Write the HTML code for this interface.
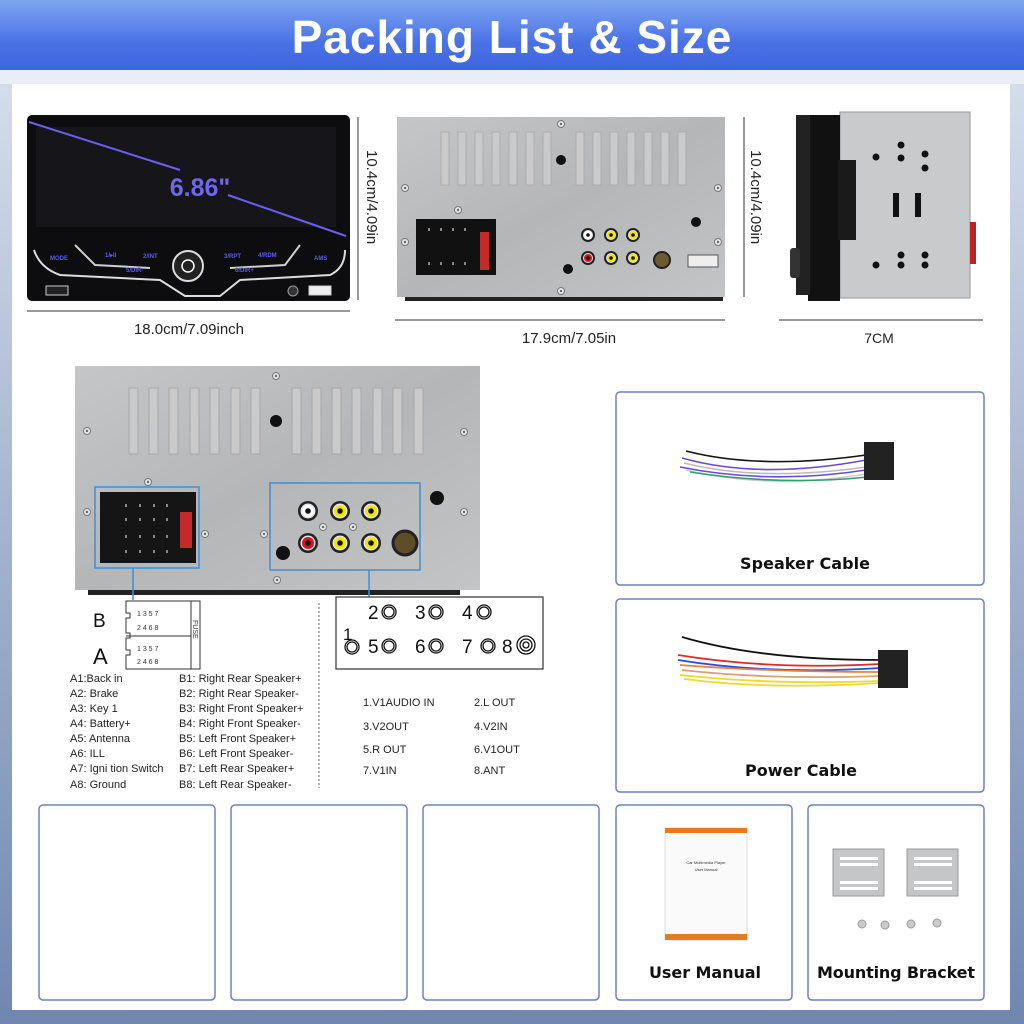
<!DOCTYPE html>
<html><head><meta charset="utf-8"><style>
html,body{margin:0;padding:0;width:1024px;height:1024px;overflow:hidden;background:#fff}
svg{display:block}
text{font-family:"Liberation Sans",sans-serif}
</style></head><body>
<svg width="1024" height="1024" viewBox="0 0 1024 1024" xmlns="http://www.w3.org/2000/svg">
<defs>
<linearGradient id="hd" x1="0" y1="0" x2="0" y2="1"><stop offset="0" stop-color="#7fa6f0"/><stop offset="0.6" stop-color="#4a72e6"/><stop offset="1" stop-color="#3f64e0"/></linearGradient>
<linearGradient id="bg" x1="0" y1="0" x2="0" y2="1"><stop offset="0" stop-color="#dde4ef"/><stop offset="1" stop-color="#6f87b0"/></linearGradient>
<linearGradient id="metal" x1="0" y1="0" x2="1" y2="1"><stop offset="0" stop-color="#c4c6c8"/><stop offset="0.5" stop-color="#b4b6b8"/><stop offset="1" stop-color="#c2c4c6"/></linearGradient>
<g id="screw"><circle r="3.5" fill="#e8e8e8" stroke="#777" stroke-width="1"/><circle r="1.2" fill="#666"/></g>
<g id="rcaY"><circle r="10" fill="#222"/><circle r="7.5" fill="#e6e6e6"/><circle r="6" fill="#f2e600"/><circle r="2.8" fill="#111"/></g>
<g id="rcaW"><circle r="10" fill="#222"/><circle r="7.5" fill="#e6e6e6"/><circle r="6" fill="#fafafa"/><circle r="2.8" fill="#111"/></g>
<g id="rcaR"><circle r="10" fill="#222"/><circle r="7.5" fill="#e6e6e6"/><circle r="6" fill="#d8141c"/><circle r="2.8" fill="#111"/></g>
<g id="rcaY2"><circle r="7" fill="#222"/><circle r="5" fill="#e6e6e6"/><circle r="4" fill="#f2e600"/><circle r="1.8" fill="#111"/></g>
<g id="rcaW2"><circle r="7" fill="#222"/><circle r="5" fill="#e6e6e6"/><circle r="4" fill="#fafafa"/><circle r="1.8" fill="#111"/></g>
<g id="rcaR2"><circle r="7" fill="#222"/><circle r="5" fill="#e6e6e6"/><circle r="4" fill="#d8141c"/><circle r="1.8" fill="#111"/></g>
</defs>

<!-- background -->
<rect width="1024" height="1024" fill="url(#bg)"/>
<rect x="12" y="82" width="998" height="928" fill="#fff"/>
<rect x="0" y="70" width="1024" height="14" fill="#e9eef6"/>
<rect x="0" y="0" width="1024" height="70" fill="url(#hd)"/>
<text x="512" y="53" text-anchor="middle" font-size="46" font-weight="bold" fill="#fff" style="font-family:'Liberation Sans Narrow','Liberation Sans',sans-serif" letter-spacing="1">Packing List &amp; Size</text>

<!-- Front unit -->
<rect x="27" y="115" width="323" height="186" rx="5" fill="#0d0d0f"/>
<rect x="36" y="127" width="300" height="100" fill="#16161a"/>
<line x1="29" y1="122" x2="180" y2="170" stroke="#6a5ff0" stroke-width="2"/>
<line x1="228" y1="195" x2="346" y2="236" stroke="#6a5ff0" stroke-width="2"/>
<text x="200" y="196" text-anchor="middle" font-size="25" font-weight="bold" fill="#6f66f2" style="font-family:'Liberation Sans Narrow','Liberation Sans',sans-serif">6.86"</text>
<path d="M34 250 Q40 268 60 275 L160 280 L185 296 L220 296 L240 280 L330 275 Q345 268 345 250" fill="none" stroke="#dcdcdc" stroke-width="2"/>
<path d="M75 245 L95 265 L150 268 M300 245 L285 265 L230 268" fill="none" stroke="#cfcfcf" stroke-width="2"/>
<circle cx="188" cy="266" r="15" fill="#222" stroke="#ddd" stroke-width="2"/>
<circle cx="188" cy="266" r="6" fill="none" stroke="#fff" stroke-width="1.5"/>
<g font-size="6" fill="#5f5be8" font-weight="bold">
<text x="50" y="260">MODE</text><text x="105" y="257">1/▸II</text><text x="143" y="258">2/INT</text><text x="224" y="258">3/RPT</text><text x="258" y="257">4/RDM</text><text x="314" y="260">AMS</text>
<text x="126" y="272">5/DIR-</text><text x="235" y="272">6/DIR+</text>
</g>
<rect x="46" y="286" width="22" height="9" fill="#222" stroke="#ccc"/>
<rect x="309" y="286" width="22" height="9" fill="#eee" stroke="#ccc"/>
<circle cx="293" cy="291" r="5" fill="#333" stroke="#999"/>
<line x1="27" y1="311" x2="350" y2="311" stroke="#333" stroke-width="1"/>
<text x="189" y="334" text-anchor="middle" font-size="15" fill="#222">18.0cm/7.09inch</text>
<text transform="translate(367,150) rotate(90)" font-size="15" fill="#222">10.4cm/4.09in</text>
<line x1="358" y1="117" x2="358" y2="300" stroke="#333"/>

<!-- Back panel 1 -->
<rect x="397" y="117" width="328" height="180" fill="url(#metal)"/>
<rect x="405" y="297" width="318" height="4" fill="#222"/>
<g fill="#cacaca" stroke="#a8a8a8" stroke-width="0.8">
<rect x="441" y="132" width="8" height="53"/><rect x="458" y="132" width="8" height="53"/><rect x="475" y="132" width="8" height="53"/><rect x="492" y="132" width="8" height="53"/><rect x="509" y="132" width="8" height="53"/><rect x="526" y="132" width="8" height="53"/><rect x="543" y="132" width="8" height="53"/>
<rect x="576" y="132" width="8" height="53"/><rect x="593" y="132" width="8" height="53"/><rect x="610" y="132" width="8" height="53"/><rect x="627" y="132" width="8" height="53"/><rect x="644" y="132" width="8" height="53"/><rect x="661" y="132" width="8" height="53"/><rect x="678" y="132" width="8" height="53"/>
</g>
<circle cx="561" cy="160" r="5" fill="#111"/>
<circle cx="696" cy="222" r="5" fill="#111"/>
<rect x="416" y="219" width="80" height="56" fill="#111"/>
<rect x="480" y="232" width="9" height="38" fill="#c52a2a"/>
<g fill="#888"><rect x="428" y="228" width="2" height="3"/><rect x="440" y="228" width="2" height="3"/><rect x="452" y="228" width="2" height="3"/><rect x="464" y="228" width="2" height="3"/><rect x="428" y="262" width="2" height="3"/><rect x="440" y="262" width="2" height="3"/><rect x="452" y="262" width="2" height="3"/><rect x="464" y="262" width="2" height="3"/></g>
<use href="#rcaW2" x="588" y="235"/><use href="#rcaY2" x="611" y="235"/><use href="#rcaY2" x="633" y="235"/>
<use href="#rcaR2" x="588" y="258"/><use href="#rcaY2" x="611" y="258"/><use href="#rcaY2" x="633" y="258"/>
<circle cx="662" cy="260" r="8" fill="#6b5a32" stroke="#222" stroke-width="2"/>
<rect x="688" y="255" width="30" height="12" fill="#eee" stroke="#555"/>
<circle cx="568" cy="269" r="5" fill="#111"/>
<use href="#screw" x="561" y="124"/><use href="#screw" x="405" y="188"/><use href="#screw" x="718" y="188"/><use href="#screw" x="458" y="210"/><use href="#screw" x="405" y="242"/><use href="#screw" x="718" y="242"/><use href="#screw" x="561" y="291"/>
<line x1="395" y1="320" x2="725" y2="320" stroke="#333"/>
<text x="569" y="343" text-anchor="middle" font-size="15" fill="#222">17.9cm/7.05in</text>
<text transform="translate(751,150) rotate(90)" font-size="15" fill="#222">10.4cm/4.09in</text>
<line x1="744" y1="117" x2="744" y2="297" stroke="#333"/>

<!-- Side unit -->
<rect x="840" y="112" width="130" height="186" fill="#c8cacc" stroke="#999"/>
<rect x="808" y="115" width="32" height="186" fill="#111"/>
<rect x="796" y="115" width="14" height="180" fill="#222"/>
<rect x="790" y="248" width="10" height="30" rx="3" fill="#333"/>
<rect x="970" y="222" width="6" height="42" fill="#c02020"/>
<rect x="838" y="160" width="18" height="80" fill="#1a1a1a"/>
<g fill="#111"><circle cx="901" cy="145" r="3.5"/><circle cx="925" cy="154" r="3.5"/><circle cx="876" cy="157" r="3.5"/><circle cx="901" cy="158" r="3.5"/><circle cx="925" cy="168" r="3.5"/><circle cx="901" cy="255" r="3.5"/><circle cx="925" cy="255" r="3.5"/><circle cx="876" cy="265" r="3.5"/><circle cx="901" cy="265" r="3.5"/><circle cx="925" cy="265" r="3.5"/>
<rect x="893" y="193" width="6" height="24"/><rect x="915" y="193" width="6" height="24"/></g>
<line x1="779" y1="320" x2="983" y2="320" stroke="#333"/>
<text x="879" y="343" text-anchor="middle" font-size="14" fill="#222" style="font-family:'Liberation Sans Narrow','Liberation Sans',sans-serif">7CM</text>

<!-- Big back panel -->
<rect x="75" y="366" width="405" height="224" fill="url(#metal)"/>
<rect x="88" y="590" width="372" height="5" fill="#222"/>
<g fill="#cacaca" stroke="#a8a8a8" stroke-width="1">
<rect x="129" y="388" width="9" height="66"/><rect x="149" y="388" width="9" height="66"/><rect x="169" y="388" width="9" height="66"/><rect x="190" y="388" width="9" height="66"/><rect x="210" y="388" width="9" height="66"/><rect x="231" y="388" width="9" height="66"/><rect x="251" y="388" width="9" height="66"/>
<rect x="292" y="388" width="9" height="66"/><rect x="312" y="388" width="9" height="66"/><rect x="332" y="388" width="9" height="66"/><rect x="352" y="388" width="9" height="66"/><rect x="373" y="388" width="9" height="66"/><rect x="393" y="388" width="9" height="66"/><rect x="414" y="388" width="9" height="66"/>
</g>
<circle cx="276" cy="421" r="6" fill="#111"/>
<circle cx="437" cy="498" r="7" fill="#111"/>
<rect x="95" y="487" width="104" height="81" fill="none" stroke="#3d8fd8" stroke-width="1.5"/>
<rect x="100" y="492" width="96" height="71" fill="#151515"/>
<rect x="180" y="512" width="12" height="36" fill="#c52a2a"/>
<g fill="#888"><rect x="125" y="504" width="2" height="3"/><rect x="139" y="504" width="2" height="3"/><rect x="153" y="504" width="2" height="3"/><rect x="166" y="504" width="2" height="3"/><rect x="125" y="518" width="2" height="3"/><rect x="139" y="518" width="2" height="3"/><rect x="153" y="518" width="2" height="3"/><rect x="166" y="518" width="2" height="3"/><rect x="125" y="535" width="2" height="3"/><rect x="139" y="535" width="2" height="3"/><rect x="153" y="535" width="2" height="3"/><rect x="166" y="535" width="2" height="3"/><rect x="125" y="550" width="2" height="3"/><rect x="139" y="550" width="2" height="3"/><rect x="153" y="550" width="2" height="3"/><rect x="166" y="550" width="2" height="3"/></g>
<rect x="270" y="483" width="150" height="87" fill="none" stroke="#3d8fd8" stroke-width="1.5"/>
<use href="#rcaW" x="308" y="511"/><use href="#rcaY" x="340" y="511"/><use href="#rcaY" x="371" y="511"/>
<use href="#rcaR" x="308" y="543"/><use href="#rcaY" x="340" y="543"/><use href="#rcaY" x="371" y="543"/>
<circle cx="405" cy="543" r="12" fill="#5e4d26" stroke="#222" stroke-width="3"/>
<circle cx="283" cy="553" r="7" fill="#111"/>
<use href="#screw" x="276" y="376"/><use href="#screw" x="87" y="431"/><use href="#screw" x="464" y="432"/><use href="#screw" x="148" y="482"/><use href="#screw" x="87" y="512"/><use href="#screw" x="464" y="512"/><use href="#screw" x="205" y="534"/><use href="#screw" x="264" y="534"/><use href="#screw" x="323" y="527"/><use href="#screw" x="353" y="527"/><use href="#screw" x="277" y="580"/>
<line x1="133" y1="568" x2="133" y2="600" stroke="#3d8fd8" stroke-width="1.5"/>
<line x1="369" y1="570" x2="369" y2="597" stroke="#3d8fd8" stroke-width="1.5"/>

<!-- Connector diagram -->
<text x="93" y="627" font-size="19" fill="#111">B</text>
<text x="93" y="664" font-size="22" fill="#111">A</text>
<path d="M126 601 H200 V669 H126 V655 H130 V650 H126 V638 H130 V633 H126 V618 H130 V613 H126 Z" fill="#fff" stroke="#333" stroke-width="1"/>
<line x1="126" y1="636" x2="191" y2="636" stroke="#333"/><line x1="191" y1="601" x2="191" y2="669" stroke="#333"/>
<g font-size="7" fill="#333"><text x="137" y="616">1  3  5  7</text><text x="137" y="630">2  4  6  8</text><text x="137" y="651">1  3  5  7</text><text x="137" y="664">2  4  6  8</text></g>
<text transform="translate(193,620) rotate(90)" font-size="7" fill="#333">FUSE</text>

<g font-size="11" fill="#222">
<text x="70" y="682">A1:Back    in</text><text x="70" y="697">A2: Brake</text><text x="70" y="712">A3: Key 1</text><text x="70" y="727">A4: Battery+</text><text x="70" y="742">A5: Antenna</text><text x="70" y="757">A6: ILL</text><text x="70" y="772">A7:  Igni tion Switch</text><text x="70" y="788">A8: Ground</text>
<text x="179" y="682">B1: Right Rear Speaker+</text><text x="179" y="697">B2: Right Rear Speaker-</text><text x="179" y="712">B3: Right Front Speaker+</text><text x="179" y="727">B4: Right Front Speaker-</text><text x="179" y="742">B5: Left Front Speaker+</text><text x="179" y="757">B6: Left Front Speaker-</text><text x="179" y="772">B7: Left Rear Speaker+</text><text x="179" y="788">B8: Left Rear Speaker-</text>
</g>
<line x1="319" y1="603" x2="319" y2="788" stroke="#666" stroke-dasharray="2,2"/>

<rect x="336" y="597" width="207" height="72" fill="#fff" stroke="#333" stroke-width="1.2"/>
<g font-size="19" fill="#111">
<text x="368" y="619">2</text><text x="415" y="619">3</text><text x="462" y="619">4</text>
<text x="343" y="640" font-size="17">1</text>
<text x="368" y="653">5</text><text x="415" y="653">6</text><text x="462" y="653">7</text><text x="502" y="653">8</text>
</g>
<g fill="none" stroke="#111" stroke-width="1.3">
<circle cx="389" cy="612" r="7"/><circle cx="389" cy="612" r="5"/>
<circle cx="436" cy="612" r="7"/><circle cx="436" cy="612" r="5"/>
<circle cx="484" cy="612" r="7"/><circle cx="484" cy="612" r="5"/>
<circle cx="352" cy="647" r="7"/><circle cx="352" cy="647" r="5"/>
<circle cx="389" cy="646" r="7"/><circle cx="389" cy="646" r="5"/>
<circle cx="436" cy="646" r="7"/><circle cx="436" cy="646" r="5"/>
<circle cx="488" cy="646" r="7"/><circle cx="488" cy="646" r="5"/>
<circle cx="526" cy="645" r="9"/><circle cx="526" cy="645" r="6"/><circle cx="526" cy="645" r="3"/>
</g>
<g font-size="11" fill="#222">
<text x="363" y="706">1.V1AUDIO IN</text><text x="474" y="706">2.L OUT</text>
<text x="363" y="730">3.V2OUT</text><text x="474" y="730">4.V2IN</text>
<text x="363" y="753">5.R OUT</text><text x="474" y="753">6.V1OUT</text>
<text x="363" y="774">7.V1IN</text><text x="474" y="774">8.ANT</text>
</g>

<!-- Right cable boxes -->
<rect x="616" y="392" width="368" height="193" rx="4" fill="#fff" stroke="#6c82b8" stroke-width="1.5"/>
<g fill="none" stroke-width="1.6">
<path d="M686 451 Q760 470 866 455" stroke="#111"/>
<path d="M682 458 Q760 480 866 460" stroke="#6a4ad8"/>
<path d="M684 463 Q760 482 866 467" stroke="#bbb"/>
<path d="M680 467 Q770 485 866 470" stroke="#6a4ad8"/>
<path d="M686 470 Q770 490 866 474" stroke="#ccc"/>
<path d="M690 472 Q780 486 868 477" stroke="#2ea06e"/>
</g>
<rect x="864" y="442" width="30" height="38" fill="#222"/>
<text x="805" y="569" text-anchor="middle" font-size="16" fill="#111" font-weight="bold" style="font-family:'DejaVu Sans',sans-serif" textLength="130">Speaker Cable</text>

<rect x="616" y="599" width="368" height="193" rx="4" fill="#fff" stroke="#6c82b8" stroke-width="1.5"/>
<g fill="none" stroke-width="1.8">
<path d="M682 637 Q760 660 880 660" stroke="#111"/>
<path d="M678 655 Q770 670 880 664" stroke="#e02a2a"/>
<path d="M678 660 Q770 675 880 668" stroke="#2a4ae0"/>
<path d="M680 665 Q770 672 880 672" stroke="#e8823a"/>
<path d="M682 670 Q770 680 880 676" stroke="#d8a070"/>
<path d="M680 675 Q770 685 880 681" stroke="#f2d82a"/>
<path d="M684 679 Q770 690 880 683" stroke="#f2d82a"/>
</g>
<rect x="878" y="650" width="30" height="38" fill="#222"/>
<text x="801" y="776" text-anchor="middle" font-size="16" fill="#111" font-weight="bold" style="font-family:'DejaVu Sans',sans-serif" textLength="112">Power Cable</text>

<!-- Bottom cards -->
<rect x="39" y="805" width="176" height="195" rx="4" fill="#fff" stroke="#6c82b8" stroke-width="1.5"/>
<rect x="231" y="805" width="176" height="195" rx="4" fill="#fff" stroke="#6c82b8" stroke-width="1.5"/>
<rect x="423" y="805" width="176" height="195" rx="4" fill="#fff" stroke="#6c82b8" stroke-width="1.5"/>
<rect x="616" y="805" width="176" height="195" rx="4" fill="#fff" stroke="#6c82b8" stroke-width="1.5"/>
<rect x="808" y="805" width="176" height="195" rx="4" fill="#fff" stroke="#6c82b8" stroke-width="1.5"/>

<rect x="665" y="828" width="82" height="112" fill="#fafafa" stroke="#ddd"/>
<rect x="665" y="828" width="82" height="5" fill="#e87a20"/>
<rect x="665" y="934" width="82" height="6" fill="#e87a20"/>
<text x="706" y="864" text-anchor="middle" font-size="4" fill="#333">Car Multimedia Player</text>
<text x="706" y="871" text-anchor="middle" font-size="4" fill="#333">User Manual</text>
<text x="705" y="978" text-anchor="middle" font-size="16" fill="#111" font-weight="bold" style="font-family:'DejaVu Sans',sans-serif" textLength="112">User Manual</text>

<g fill="#c4c6c8" stroke="#999">
<rect x="833" y="849" width="51" height="47"/><rect x="907" y="849" width="51" height="47"/>
</g>
<g fill="#fff"><rect x="840" y="857" width="38" height="3"/><rect x="840" y="863" width="38" height="3"/><rect x="840" y="881" width="38" height="3"/><rect x="840" y="887" width="38" height="3"/>
<rect x="914" y="857" width="38" height="3"/><rect x="914" y="863" width="38" height="3"/><rect x="914" y="881" width="38" height="3"/><rect x="914" y="887" width="38" height="3"/></g>
<g fill="#ccc" stroke="#999"><circle cx="862" cy="924" r="4"/><circle cx="885" cy="925" r="4"/><circle cx="911" cy="924" r="4"/><circle cx="937" cy="923" r="4"/></g>
<text x="896" y="978" text-anchor="middle" font-size="16" fill="#111" font-weight="bold" style="font-family:'DejaVu Sans',sans-serif" textLength="158">Mounting Bracket</text>
</svg>
</body></html>
